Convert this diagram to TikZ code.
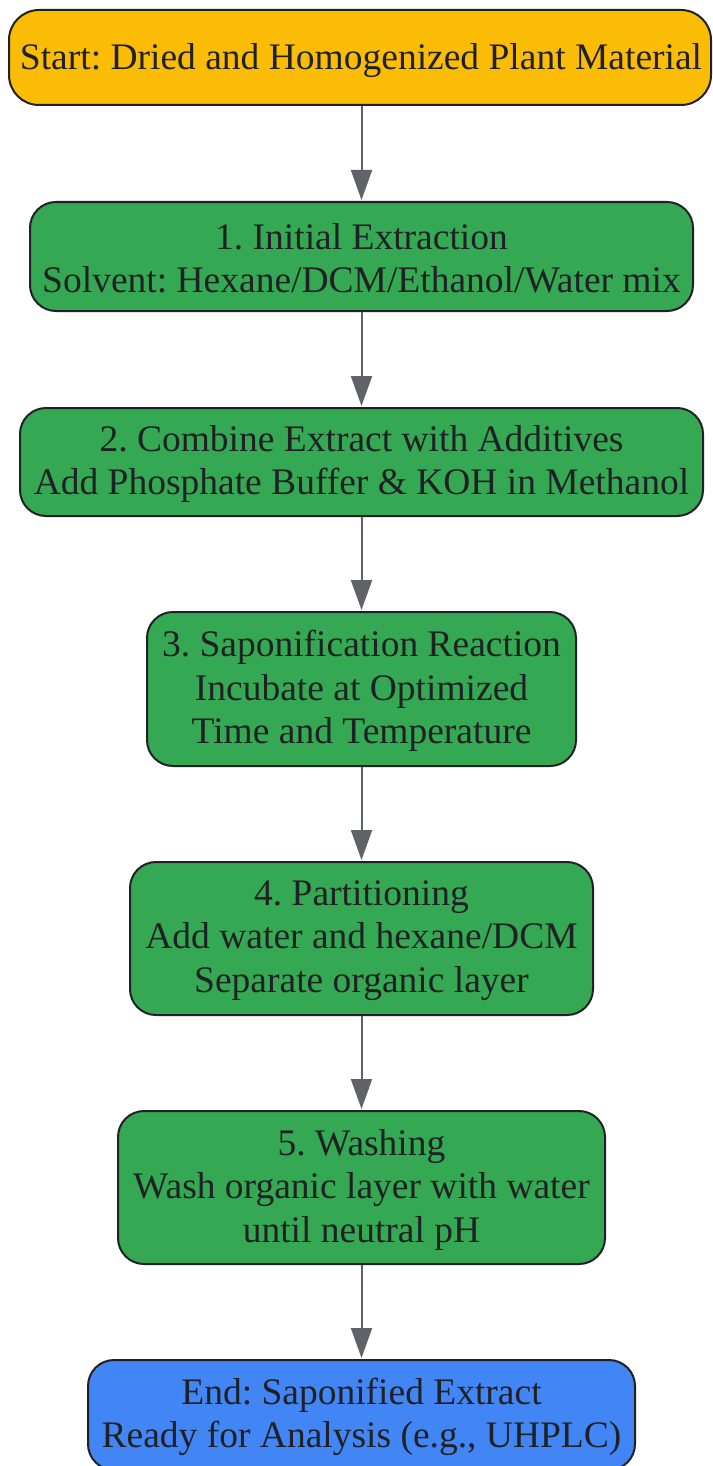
\documentclass[tikz,border=0pt]{standalone}
\usepackage{fontspec}
\setmainfont{Liberation Serif}
\usetikzlibrary{arrows.meta}
\definecolor{startc}{HTML}{FBBC05}
\definecolor{stepc}{HTML}{34A853}
\definecolor{endc}{HTML}{4285F4}
\definecolor{edgec}{HTML}{5F6368}
\definecolor{txtc}{HTML}{202124}
\tikzset{
  box/.style={draw=txtc, line width=2pt, rounded corners=26pt, inner sep=0pt,
    align=center, text=txtc, font=\fontsize{37.5}{43.5}\selectfont\frenchspacing},
  lbl/.style={align=center, text=txtc, inner sep=0pt, font=\fontsize{37.5}{43.5}\selectfont\frenchspacing},
  flow/.style={draw=edgec, line width=2pt, -{Triangle[length=30pt,width=21pt]}, shorten >=1pt},
}
\begin{document}
\begin{tikzpicture}[x=1pt,y=-1pt]
\useasboundingbox (0,0) rectangle (712,1466);
\node[box, fill=startc, rounded corners=30pt, minimum width=702pt, minimum height=95pt] (s) at (360,57.5) {};
\node[lbl] (st) at (361,61) {Start: Dried and Homogenized Plant Material};
\node[box, fill=stepc, minimum width=663pt, minimum height=109pt] (n1) at (361.5,256.5) {};
\node[lbl] (t1) at (361.5,258.5) {1. Initial Extraction\\Solvent: Hexane/DCM/Ethanol/Water mix};
\node[box, fill=stepc, minimum width=683pt, minimum height=108pt] (n2) at (361.5,462) {};
\node[lbl] (t2) at (361.5,464) {2. Combine Extract with Additives\\Add Phosphate Buffer \& KOH in Methanol};
\node[box, fill=stepc, minimum width=429pt, minimum height=154pt] (n3) at (361.5,689) {};
\node[lbl] (t3) at (361.5,691) {3. Saponification Reaction\\Incubate at Optimized\\Time and Temperature};
\node[box, fill=stepc, minimum width=463pt, minimum height=153pt] (n4) at (361.5,938.5) {};
\node[lbl] (t4) at (361.5,940.5) {4. Partitioning\\Add water and hexane/DCM\\Separate organic layer};
\node[box, fill=stepc, minimum width=487pt, minimum height=153pt] (n5) at (361.5,1187.5) {};
\node[lbl] (t5) at (361.5,1189.5) {5. Washing\\Wash organic layer with water\\until neutral pH};
\node[box, fill=endc, minimum width=547pt, minimum height=110pt] (e) at (361.5,1415) {};
\node[lbl] (te) at (361.5,1417) {End: Saponified Extract\\Ready for Analysis (e.g., UHPLC)};
\draw[flow] (s.south -| n1.north) -- (n1.north);
\draw[flow] (n1) -- (n2);
\draw[flow] (n2) -- (n3);
\draw[flow] (n3) -- (n4);
\draw[flow] (n4) -- (n5);
\draw[flow] (n5) -- (e);
\end{tikzpicture}
\end{document}
